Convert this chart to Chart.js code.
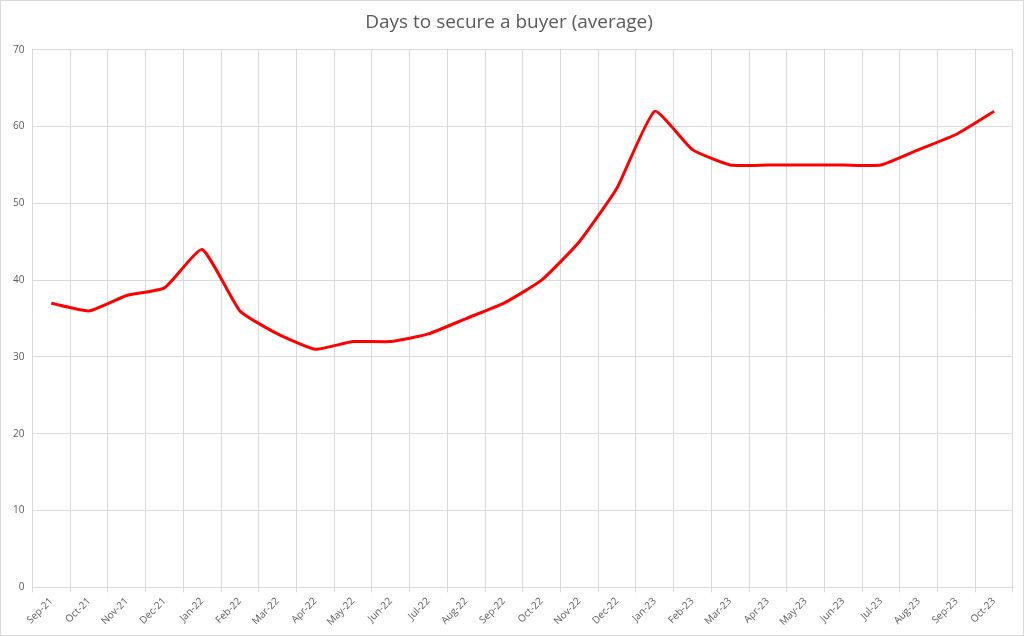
<!DOCTYPE html>
<html><head><meta charset="utf-8">
<script src="https://cdn.jsdelivr.net/npm/chart.js@4"></script>
<style>html,body{margin:0;padding:0;background:#fff}#w{position:absolute;left:0;top:0;width:1022px;height:634px;border:1px solid #d9d9d9}</style>
</head><body><div id="w"><canvas id="c"></canvas></div>
<script>
const categories=["Sep-21","Oct-21","Nov-21","Dec-21","Jan-22","Feb-22","Mar-22","Apr-22","May-22","Jun-22","Jul-22","Aug-22","Sep-22","Oct-22","Nov-22","Dec-22","Jan-23","Feb-23","Mar-23","Apr-23","May-23","Jun-23","Jul-23","Aug-23","Sep-23","Oct-23"];
const days=[37,36,38,39,44,36,33,31,32,32,33,35,37,40,45,52,62,57,55,55,55,55,55,57,59,62];
new Chart(document.getElementById('c'),{type:'line',
data:{labels:categories,datasets:[{data:days,borderColor:'#ff0000',borderWidth:3,pointRadius:0,tension:0.15,fill:false}]},
options:{responsive:true,maintainAspectRatio:false,animation:false,
layout:{padding:{left:4,right:10,top:6,bottom:4}},
plugins:{legend:{display:false},tooltip:{enabled:false},
title:{display:true,text:'Days to secure a buyer (average)',color:'#595959',font:{family:'Open Sans',size:19,weight:'normal'},padding:{top:4,bottom:16}}},
scales:{
x:{offset:true,grid:{offset:true,color:'#d9d9d9',drawTicks:true,tickLength:5},border:{color:'#d9d9d9'},
ticks:{color:'#595959',font:{family:'Open Sans',size:10},maxRotation:45,minRotation:45,autoSkip:false}},
y:{min:0,max:70,grid:{color:'#d9d9d9',drawTicks:false},border:{display:false},
ticks:{stepSize:10,color:'#595959',font:{family:'Open Sans',size:10},padding:8}}}}});
</script></body></html>
